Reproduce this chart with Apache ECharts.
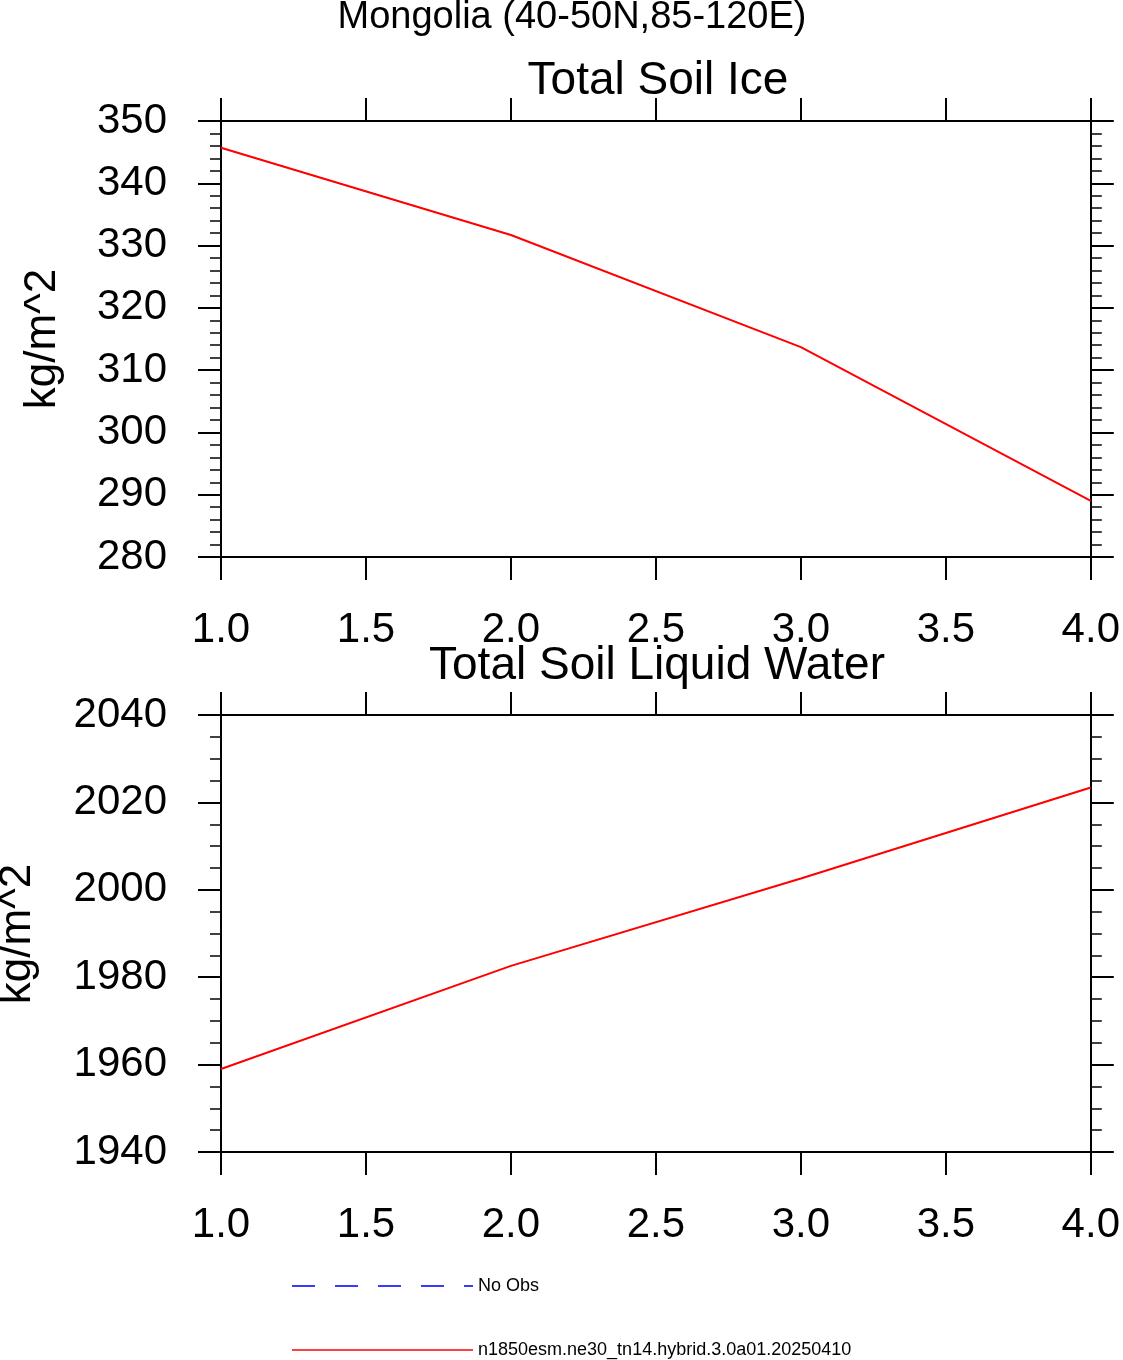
<!DOCTYPE html>
<html>
<head>
<meta charset="utf-8">
<title>Mongolia soil ice / liquid water</title>
<script src="https://cdn.jsdelivr.net/npm/echarts@6/dist/echarts.min.js"></script>
<style>
  html, body { margin: 0; padding: 0; background: #fff; }
  #chart { width: 1123px; height: 1360px; }
</style>
</head>
<body>
<div id="chart"></div>
<script>
// data
var levels = [1, 2, 3, 4];
var soilIce = [345.7, 331.7, 313.7, 289.0];
var soilLiquid = [1959.0, 1982.6, 2002.6, 2023.4];

// tick labels
var xTicks = [1.0, 1.5, 2.0, 2.5, 3.0, 3.5, 4.0];
var iceTicks = [280, 290, 300, 310, 320, 330, 340, 350];
var liquidTicks = [1940, 1960, 1980, 2000, 2020, 2040];

var modelName = 'n1850esm.ne30_tn14.hybrid.3.0a01.20250410';
var obsName = 'No Obs';

var FONT = '"Liberation Sans", Arial, Helvetica, sans-serif';

function pairs(xs, ys) {
	var out = [];
	for (var i = 0; i < xs.length; i++) {
		out.push([xs[i], ys[i]]);
	}
	return out;
}

// bottom + top x axes for one grid
function makeXAxes(gridIndex) {
	var base = {
		type: 'value',
		gridIndex: gridIndex,
		min: xTicks[0],
		max: xTicks[xTicks.length - 1],
		interval: xTicks[1] - xTicks[0],
		splitLine: { show: false },
		axisLine: { onZero: false, lineStyle: { color: '#000', width: 2 } },
		axisTick: { show: true, inside: false, length: 23, lineStyle: { color: '#000', width: 2 } }
	};
	var bottom = echarts.util.merge({
		position: 'bottom',
		axisLabel: {
			show: true, margin: 52, fontSize: 42, color: '#000', fontFamily: FONT,
			showMinLabel: true, showMaxLabel: true,
			formatter: function (v) { return v.toFixed(1); }
		}
	}, base);
	var top = echarts.util.merge({
		position: 'top',
		axisLabel: { show: false }
	}, echarts.util.clone(base));
	return [bottom, top];
}

// left + right y axes for one grid
function makeYAxes(gridIndex, ticks, minorSplit) {
	var base = {
		type: 'value',
		gridIndex: gridIndex,
		min: ticks[0],
		max: ticks[ticks.length - 1],
		interval: ticks[1] - ticks[0],
		splitLine: { show: false },
		axisLine: { onZero: false, lineStyle: { color: '#000', width: 2 } },
		axisTick: { show: true, inside: false, length: 23, lineStyle: { color: '#000', width: 2 } },
		minorTick: { show: true, splitNumber: minorSplit, length: 11, lineStyle: { color: '#111', width: 1.6 } },
		minorSplitLine: { show: false }
	};
	var left = echarts.util.merge({
		position: 'left',
		axisLabel: {
			show: true, margin: 54, fontSize: 42, color: '#000', fontFamily: FONT,
			padding: [5, 0, 0, 0],
			showMinLabel: true, showMaxLabel: true,
			formatter: function (v) { return String(v); }
		}
	}, base);
	var right = echarts.util.merge({
		position: 'right',
		axisLabel: { show: false }
	}, echarts.util.clone(base));
	return [left, right];
}

var chart = echarts.init(document.getElementById('chart'), null, { renderer: 'canvas' });

var option = {
	backgroundColor: '#fff',
	animation: false,
	textStyle: { fontFamily: FONT },
	title: [
		{
			text: 'Mongolia (40-50N,85-120E)', left: 572, top: -1, textAlign: 'center', padding: 0,
			textStyle: { fontSize: 38, fontWeight: 'normal', color: '#000', fontFamily: FONT }
		},
		{
			text: 'Total Soil Ice', left: 658, top: 58, textAlign: 'center', padding: 0,
			textStyle: { fontSize: 46, fontWeight: 'normal', color: '#000', fontFamily: FONT }
		},
		{
			text: 'Total Soil Liquid Water', left: 657, top: 643, textAlign: 'center', padding: 0,
			textStyle: { fontSize: 46, fontWeight: 'normal', color: '#000', fontFamily: FONT }
		}
	],
	grid: [
		{ left: 221, top: 121, width: 872, height: 436, containLabel: false },
		{ left: 221, top: 715, width: 872, height: 437, containLabel: false }
	],
	xAxis: makeXAxes(0).concat(makeXAxes(1)),
	yAxis: makeYAxes(0, iceTicks, 5).concat(makeYAxes(1, liquidTicks, 4)),
	legend: {
		orient: 'vertical',
		left: 291,
		top: 1277,
		padding: 0,
		itemWidth: 181,
		itemHeight: 14,
		itemGap: 46,
		selectedMode: false,
		// line only, no marker in the legend
		itemStyle: { opacity: 0 },
		textStyle: { fontSize: 18, color: '#000', fontFamily: FONT },
		data: [
			{ name: obsName },
			{ name: modelName, lineStyle: { width: 1.4 } }
		]
	},
	graphic: [
		{
			type: 'text', x: 43, y: 339, rotation: Math.PI / 2,
			style: { text: 'kg/m^2', fontSize: 44, fontFamily: FONT, fill: '#000', align: 'center', verticalAlign: 'middle' }
		},
		{
			type: 'text', x: 18, y: 934, rotation: Math.PI / 2,
			style: { text: 'kg/m^2', fontSize: 44, fontFamily: FONT, fill: '#000', align: 'center', verticalAlign: 'middle' }
		}
	],
	series: [
		{
			name: obsName, type: 'line', xAxisIndex: 0, yAxisIndex: 0,
			data: [], symbol: 'none',
			lineStyle: { color: '#3a3aff', width: 1.4, type: [23, 20] },
			itemStyle: { color: '#3a3aff' }
		},
		{
			name: modelName, type: 'line', xAxisIndex: 0, yAxisIndex: 0,
			data: pairs(levels, soilIce), symbol: 'none', showSymbol: false,
			lineStyle: { color: '#ff0000', width: 2 },
			itemStyle: { color: '#ff0000' }
		},
		{
			name: modelName, type: 'line', xAxisIndex: 2, yAxisIndex: 2,
			data: pairs(levels, soilLiquid), symbol: 'none', showSymbol: false,
			lineStyle: { color: '#ff0000', width: 2 },
			itemStyle: { color: '#ff0000' }
		}
	]
};

chart.setOption(option);
</script>
</body>
</html>
